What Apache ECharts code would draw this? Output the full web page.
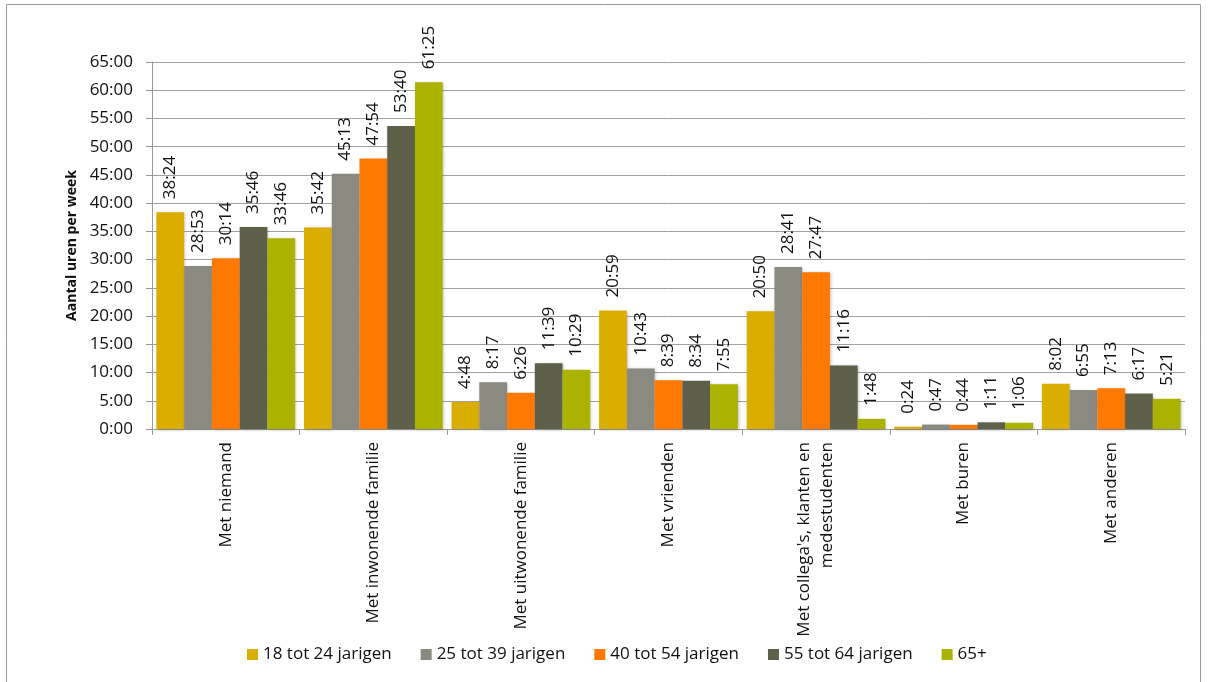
<!DOCTYPE html>
<html>
<head>
<meta charset="utf-8">
<script src="https://cdn.jsdelivr.net/npm/echarts@6/dist/echarts.min.js"></script>
<style>
  html, body { margin: 0; padding: 0; background: #fff; }
  #chart { width: 1209px; height: 682px; }
</style>
</head>
<body>
<div id="chart"></div>
<script>
const categories = [
    'Met niemand',
    'Met inwonende familie',
    'Met uitwonende familie',
    'Met vrienden',
    "Met collega's, klanten en\nmedestudenten",
    'Met buren',
    'Met anderen'
];

const groups = ['18 tot 24 jarigen', '25 tot 39 jarigen', '40 tot 54 jarigen', '55 tot 64 jarigen', '65+'];

// uren:minuten per week
const age18to24 = ['38:24', '35:42', '4:48', '20:59', '20:50', '0:24', '8:02'];
const age25to39 = ['28:53', '45:13', '8:17', '10:43', '28:41', '0:47', '6:55'];
const age40to54 = ['30:14', '47:54', '6:26', '8:39', '27:47', '0:44', '7:13'];
const age55to64 = ['35:46', '53:40', '11:39', '8:34', '11:16', '1:11', '6:17'];
const age65plus = ['33:46', '61:25', '10:29', '7:55', '1:48', '1:06', '5:21'];

const colors = ['#D9AE00', '#8A8A80', '#FF7800', '#5E6049', '#ABB300'];

function toMinutes(s) {
    const p = s.split(':');
    return parseInt(p[0], 10) * 60 + parseInt(p[1], 10);
}

function fmt(min) {
    const h = Math.floor(min / 60);
    const m = Math.round(min % 60);
    return h + ':' + (m < 10 ? '0' : '') + m;
}

const font = '"Open Sans", "Liberation Sans", sans-serif';
const chart = echarts.init(document.getElementById('chart'));

const seriesData = [age18to24, age25to39, age40to54, age55to64, age65plus];

chart.setOption({
    animation: false,
    textStyle: { fontFamily: font },
    graphic: [{
        type: 'rect',
        shape: { x: 6.5, y: 4.5, width: 1194, height: 690 },
        style: { fill: 'none', stroke: '#9a9a9a', lineWidth: 1 },
        silent: true
    }],
    grid: { left: 152, right: 24, top: 62, bottom: 253 },
    legend: {
        bottom: 14,
        left: 242,
        icon: 'rect',
        itemWidth: 11,
        itemHeight: 11,
        itemGap: 29,
        textStyle: { fontSize: 17, color: '#111', fontFamily: font }
    },
    xAxis: {
        type: 'category',
        data: categories,
        axisLine: { lineStyle: { color: '#999' } },
        axisTick: { show: true, length: 6, lineStyle: { color: '#999' } },
        axisLabel: {
            interval: 0,
            rotate: 90,
            margin: 13,
            fontSize: 17,
            color: '#111',
            lineHeight: 23,
            align: 'right',
            fontFamily: font
        }
    },
    yAxis: {
        type: 'value',
        min: 0,
        max: 3900,
        interval: 300,
        name: 'Aantal uren per week',
        nameLocation: 'middle',
        nameGap: 73,
        nameTextStyle: { fontSize: 14, fontWeight: 'bold', color: '#111', fontFamily: font },
        axisLine: { show: true, lineStyle: { color: '#999' } },
        axisTick: { show: true, length: 6, lineStyle: { color: '#999' } },
        axisLabel: {
            fontSize: 17,
            color: '#111',
            margin: 19,
            fontFamily: font,
            formatter: v => fmt(v)
        },
        splitLine: { lineStyle: { color: '#a0a0a0', width: 1 } }
    },
    series: groups.map((name, i) => ({
        name: name,
        type: 'bar',
        barGap: '0%',
        barCategoryGap: '6%',
        data: seriesData[i].map(toMinutes),
        itemStyle: {
            color: colors[i],
            shadowColor: 'rgba(0,0,0,0.25)',
            shadowBlur: 3,
            shadowOffsetX: 1,
            shadowOffsetY: 1
        },
        label: {
            show: true,
            position: 'top',
            rotate: 90,
            align: 'left',
            verticalAlign: 'middle',
            distance: 13,
            fontSize: 17,
            color: '#111',
            fontFamily: font,
            formatter: p => seriesData[i][p.dataIndex]
        }
    }))
});

window.addEventListener('resize', () => chart.resize());
</script>
</body>
</html>
